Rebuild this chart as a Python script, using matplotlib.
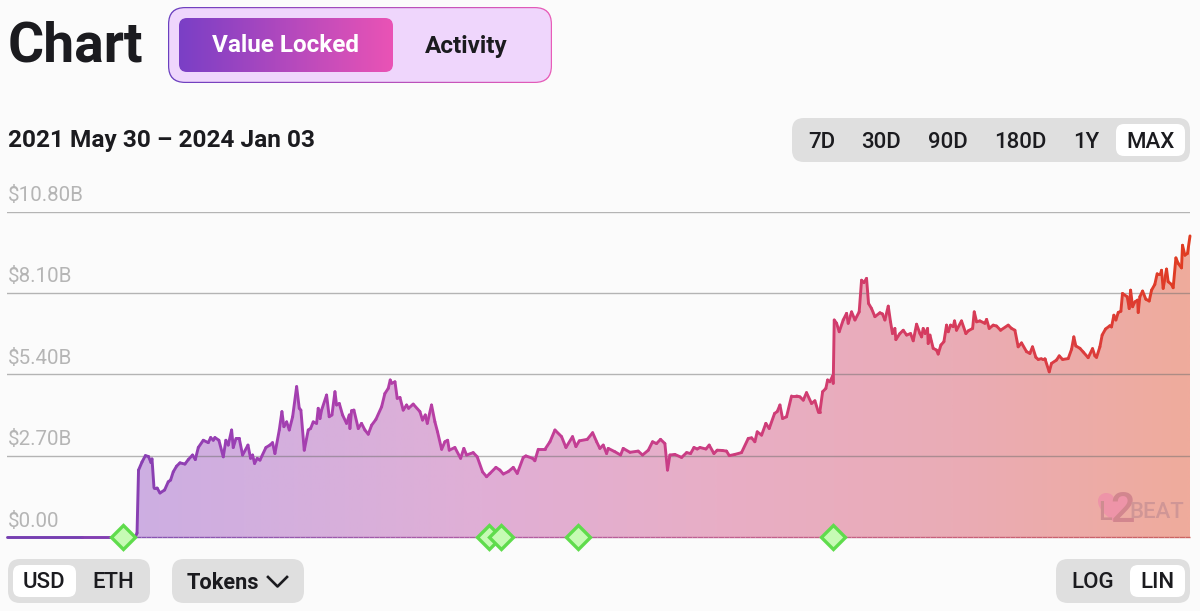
#!/usr/bin/env python3
import matplotlib
matplotlib.use('Agg')
import matplotlib.pyplot as plt
import numpy as np
from matplotlib.collections import LineCollection
from matplotlib.colors import LinearSegmentedColormap
from matplotlib.patches import FancyBboxPatch, PathPatch
from matplotlib.path import Path

# Days since 2021 May 30 and value locked in $B
DAYS = [0, 60, 101, 103, 104.2, 105.4, 108.2, 110.9, 113.4, 115.4, 116.2, 117.8, 120.2, 122.6, 126.3, 129.2, 131.1, 133.2,
        135.9, 138.6, 142.6, 145.3, 148.7, 150.9, 153.3, 157.3, 161.3, 163.2, 165.3, 166.6, 169.8, 173.3, 175.4,
        177.3, 180.0, 181.3, 183.5, 186.1, 188.8, 193.1, 195.2, 196.8, 198.4, 200.5, 202.7, 207.5, 210.7, 212.8,
        214.7, 218.2, 220.3, 221.9, 224.1, 226.2, 228.9, 232.1, 234.2, 235.5, 238.2, 241.4, 243.3, 245.4, 248.1,
        249.4, 250.8, 252.1, 256.1, 258.2, 260.4, 262.8, 264.1, 266.3, 268.9, 272.1, 274.3, 274.8, 276.1, 278.0,
        281.5, 284.1, 286.8, 289.5, 292.2, 295.6, 300.2, 302.8, 305.5, 307.1, 308.2, 310.9, 312.7, 314.9, 317.5,
        320.2, 321.8, 325.5, 330.9, 333.0, 335.2, 336.8, 340.2, 342.9, 345.0, 348.3, 350.9, 353.1, 354.4, 358.9,
        363.5, 366.1, 368.3, 373.6, 376.8, 381.1, 384.3, 387.0, 391.8, 395.0, 397.7, 401.7, 405.7, 408.9, 413.7,
        415.8, 421.2, 423.0, 425.7, 431.1, 435.1, 439.1, 444.4, 447.9, 453.2, 455.9, 458.6, 465.0, 469.3, 472.5,
        475.1, 477.8, 480.5, 481.8, 487.1, 491.7, 493.8, 499.2, 505.8, 509.3, 513.9, 517.3, 520.5, 523.7, 527.2,
        529.3, 531.2, 535.2, 540.6, 544.6, 547.8, 550.5, 553.1, 555.3, 560.1, 562.7, 566.5, 569.1, 573.4, 576.6,
        578.8, 583.3, 588.6, 594.0, 596.7, 599.3, 601.2, 604.7, 608.1, 610.8, 615.1, 617.2, 619.4, 621.5, 624.7,
        628.7, 632.7, 635.4, 638.1, 640.7, 644.7, 647.4, 650.1, 651.4, 653.6, 656.2, 657.6, 659.4, 661.6, 662.1,
        662.9, 664.8, 666.9, 670.1, 672.8, 674.1, 676.8, 679.5, 682.9, 684.8, 686.7, 688.8, 690.4, 692.8, 695.5,
        699.5, 701.6, 703.5, 706.2, 708.0, 709.6, 711.5, 712.3, 715.5, 718.2, 720.9, 724.1, 726.2, 728.9, 731.6,
        732.9, 734.2, 735.8, 737.7, 738.2, 739.6, 740.9, 742.2, 744.9, 746.2, 748.4, 750.8, 752.9, 754.3, 756.1,
        758.3, 759.3, 760.9, 764.9, 768.4, 770.3, 773.8, 775.1, 777.0, 779.6, 783.6, 785.0, 787.1, 790.3, 793.0,
        796.2, 802.3, 805.0, 807.7, 810.3, 813.0, 817.0, 819.7, 821.8, 824.5, 826.4, 829.0, 831.7, 835.2, 837.0,
        841.0, 843.2, 845.9, 850.4, 853.1, 854.9, 856.5, 859.8, 862.4, 866.4, 869.9, 871.8, 873.1, 875.8, 877.6,
        880.3, 883.8, 885.1, 887.0, 888.6, 890.5, 892.6, 893.9, 897.7, 899.3, 900.4, 902.0, 903.8, 906.0, 906.5,
        907.8, 910.0, 912.6, 915.3, 917.2, 919.8, 921.7, 924.4, 925.2, 926.5, 929.2, 930.5, 933.2, 934.5, 936.7,
        938.5, 941.2, 942.0, 943.9, 946.0, 948.0]
VALUES = [0, 0, 0, 0.02, 0.13, 2.22, 2.49, 2.70, 2.67, 2.47, 2.59, 1.63, 1.63, 1.46, 1.56, 1.83, 1.89, 2.16,
          2.35, 2.46, 2.42, 2.57, 2.72, 2.57, 2.97, 3.21, 3.13, 3.30, 3.21, 3.30, 3.21, 2.66, 3.21,
          3.05, 3.55, 2.97, 3.27, 3.27, 2.72, 3.05, 2.61, 2.72, 2.44, 2.61, 2.55, 2.97, 3.05, 3.13,
          2.77, 3.55, 4.16, 3.66, 3.82, 3.55, 3.99, 4.99, 4.27, 4.21, 2.88, 3.55, 3.60, 3.82, 3.77,
          4.27, 3.93, 4.21, 4.71, 3.99, 4.05, 4.82, 4.38, 4.43, 4.05, 3.77, 4.05, 3.60, 4.19, 4.21,
          3.60, 3.77, 3.55, 3.41, 3.71, 3.90, 4.32, 4.76, 4.93, 5.21, 5.10, 5.15, 4.60, 4.63, 4.21,
          4.38, 4.27, 4.41, 4.16, 3.88, 4.05, 3.77, 4.38, 3.82, 3.49, 2.91, 3.16, 3.21, 2.88, 2.97,
          2.61, 2.94, 2.72, 2.80, 2.66, 2.16, 2.00, 2.11, 2.31, 2.22, 2.09, 2.17, 2.31, 2.11, 2.64,
          2.69, 2.61, 2.53, 2.91, 2.91, 3.16, 3.55, 3.33, 2.97, 3.33, 3.00, 3.19, 3.24, 3.46, 3.16,
          2.94, 3.05, 2.77, 2.94, 2.83, 2.72, 2.94, 2.81, 2.85, 2.72, 2.88, 3.16, 3.10, 3.24, 3.10,
          2.22, 2.72, 2.74, 2.64, 2.80, 2.77, 2.97, 2.92, 2.97, 2.92, 3.05, 2.77, 2.88, 2.87, 2.85,
          2.70, 2.74, 2.80, 3.27, 3.29, 3.16, 3.49, 3.38, 3.77, 3.60, 4.10, 4.16, 4.38, 3.93, 3.99,
          4.68, 4.68, 4.65, 4.54, 4.79, 4.43, 4.52, 4.16, 4.16, 4.82, 4.93, 5.21, 5.15, 5.34, 5.10,
          7.20, 7.09, 6.81, 7.20, 7.42, 7.09, 7.47, 7.20, 7.47, 8.52, 8.44, 8.58, 7.75, 7.58, 7.31,
          7.44, 7.40, 7.20, 7.66, 7.14, 6.75, 6.92, 6.55, 6.75, 6.86, 6.70, 6.75, 6.51, 7.06, 6.75,
          6.64, 6.92, 6.75, 6.92, 6.42, 6.70, 6.48, 6.26, 6.20, 6.07, 6.37, 6.48, 7.03, 6.81, 7.03,
          6.98, 7.17, 6.86, 7.17, 6.75, 6.84, 6.92, 7.47, 7.14, 7.17, 7.09, 7.22, 6.92, 7.03, 7.00,
          6.86, 7.03, 6.92, 6.86, 6.31, 6.44, 6.15, 6.09, 6.31, 5.96, 5.89, 5.92, 5.92, 5.48, 5.76,
          5.87, 6.01, 5.89, 5.92, 6.23, 6.64, 6.34, 6.26, 6.14, 5.95, 6.25, 6.01, 5.96, 6.31, 6.70,
          6.90, 7.01, 6.97, 7.36, 7.20, 7.45, 7.49, 8.08, 7.97, 7.58, 8.19, 7.64, 7.80, 7.86, 7.45,
          7.97, 8.16, 7.89, 7.83, 8.19, 8.38, 8.74, 8.74, 8.85, 8.25, 8.89, 8.47, 8.38, 8.27, 9.26,
          9.08, 8.93, 9.68, 9.35, 9.41, 9.99]
Y_TICKS = [0, 2.7, 5.4, 8.1, 10.8]
Y_TICK_LABELS = ['$0.00', '$2.70B', '$5.40B', '$8.10B', '$10.80B']
MILESTONE_DAYS = [92.9, 386.2, 395.8, 457.5, 661.9]
RANGE_LABELS = ['7D', '30D', '90D', '180D', '1Y', 'MAX']

BACKGROUND = '#FBFBFB'
PILL_GRAY = '#DFDFDF'
INK = '#1B1B1F'
LINE_COLORS = ['#6F3FB0', '#9C3FB4', '#BE3FA0', '#CC3D80', '#D63C5C', '#E03C22']
BASE_COLORS = ['#7A4CB4', '#9158B0', '#B05CA4', '#C06090', '#C8607A', '#CC6460']
FILL_COLORS = ['#C7AEE6', '#D2AFDF', '#E0AFD6', '#E8AEC6', '#EAACB6', '#EFAB9C']
BUTTON_COLORS = ['#7A3FC6', '#EA53B5']

plt.rcParams['font.family'] = ['Roboto', 'DejaVu Sans']


def pill(ax, x0, y0, x1, y1, radius, color, zorder=2):
    patch = FancyBboxPatch((x0 + radius, y0 + radius), x1 - x0 - 2 * radius, y1 - y0 - 2 * radius,
                           boxstyle=f'round,pad={radius},rounding_size={radius}', fc=color, ec='none', zorder=zorder)
    ax.add_patch(patch)
    return patch


def gradient_pill(ax, x0, y0, x1, y1, radius, colors, zorder=2):
    patch = pill(ax, x0, y0, x1, y1, radius, 'none', zorder=zorder)
    cmap = LinearSegmentedColormap.from_list('pill', colors)
    image = ax.imshow(np.linspace(0, 1, 256).reshape(1, -1), cmap=cmap, extent=(x0, x1, y1, y0), aspect='auto',
                      zorder=zorder)
    image.set_clip_path(patch)


def draw_chart(fig):
    # Chart area spans pixels 7..1190 horizontally and 211.5..537 vertically
    ax = fig.add_axes([7 / 1200, 1 - 537 / 611, 1183 / 1200, (537 - 211.5) / 611], facecolor='none')
    ax.set_xlim(0, 948)
    ax.set_ylim(0, 10.8)
    for spine in ax.spines.values():
        spine.set_visible(False)
    ax.set_xticks([])
    ax.set_yticks(Y_TICKS[1:])
    ax.set_yticklabels([])
    ax.tick_params(length=0)
    ax.grid(axis='y', color='#6E6E6E', alpha=0.5, linewidth=1, zorder=4)
    ax.set_axisbelow(False)

    for tick, label in zip(Y_TICKS, Y_TICK_LABELS):
        ax.annotate(label, (0, tick), xytext=(0.8, 4.6), textcoords='offset points', color='#B5B5B5', fontsize=14.8,
                    va='bottom', ha='left', annotation_clip=False)

    # Area under the line with a horizontal gradient
    days = np.array(DAYS)
    values = np.array(VALUES)
    fill_cmap = LinearSegmentedColormap.from_list('fill', FILL_COLORS)
    line_cmap = LinearSegmentedColormap.from_list('line', LINE_COLORS)
    base_cmap = LinearSegmentedColormap.from_list('base', BASE_COLORS)
    outline = Path(np.column_stack([np.r_[days, days[-1], days[0]], np.r_[values, 0, 0]]))
    clip = PathPatch(outline, transform=ax.transData, fc='none', ec='none')
    ax.add_patch(clip)
    image = ax.imshow(np.linspace(0, 1, 512).reshape(1, -1), cmap=fill_cmap, extent=(0, 948, 0, 10.8), aspect='auto',
                      zorder=2)
    image.set_clip_path(clip)

    # The line takes its colour from the position on the x axis
    points = np.column_stack([days, values])
    segments = np.stack([points[:-1], points[1:]], axis=1)
    line = LineCollection(segments, cmap=line_cmap, linewidths=2.1, zorder=5, capstyle='round', joinstyle='round',
                          clip_on=False)
    line.set_array((days[:-1] + days[1:]) / 2 / 948)
    line.set_clim(0, 1)
    ax.add_collection(line)

    base_days = np.linspace(days[3], 948, 200)
    base_points = np.column_stack([base_days, np.zeros_like(base_days)])
    baseline = LineCollection(np.stack([base_points[:-1], base_points[1:]], axis=1), cmap=base_cmap, linewidths=1.0,
                              zorder=5, clip_on=False)
    baseline.set_array(base_days[:-1] / 948)
    baseline.set_clim(0, 1)
    ax.add_collection(baseline)

    ax.plot(MILESTONE_DAYS, [0] * len(MILESTONE_DAYS), linestyle='none', marker='D', markersize=12.5,
            markerfacecolor='#C6FBB4', markeredgecolor='#5FDC4C', markeredgewidth=2.4, clip_on=False, zorder=6)


def draw_controls(fig):
    # Overlay in pixel coordinates for the page controls around the chart
    ui = fig.add_axes([0, 0, 1, 1], facecolor='none')
    ui.set_xlim(0, 1200)
    ui.set_ylim(611, 0)
    ui.set_axis_off()

    ui.text(8, 46, 'Chart', fontsize=39.8, fontweight='bold', color=INK, va='center', ha='left')

    gradient_pill(ui, 168, 7, 552, 83, 17, ['#6A3FC0', '#E85CB8'])
    pill(ui, 169.2, 8.2, 550.8, 81.8, 16, '#EFD6FC', zorder=3)
    gradient_pill(ui, 179, 18, 393, 72, 8, BUTTON_COLORS, zorder=4)
    ui.text(286, 46, 'Value Locked', fontsize=17.5, fontweight='bold', color='white', va='center', ha='center', zorder=5)
    ui.text(466.5, 46, 'Activity', fontsize=17.5, fontweight='bold', color=INK, va='center', ha='center', zorder=5)

    ui.text(8, 141, '2021 May 30 – 2024 Jan 03', fontsize=17.6, fontweight='bold', color=INK, va='center', ha='left')

    pill(ui, 792, 118, 1190, 162, 12, PILL_GRAY)
    pill(ui, 1116, 124, 1185, 156, 8, 'white', zorder=3)
    for label, x in zip(RANGE_LABELS, [822, 881.5, 948, 1020, 1086.5, 1150.5]):
        ui.text(x, 142, label, fontsize=16, fontweight='medium', color=INK, va='center', ha='center', zorder=4)

    pill(ui, 8, 559, 150, 603, 12, PILL_GRAY)
    pill(ui, 13, 565, 76, 597, 8, 'white', zorder=3)
    ui.text(44, 583, 'USD', fontsize=16, fontweight='medium', color=INK, va='center', ha='center', zorder=4)
    ui.text(113, 583, 'ETH', fontsize=16, fontweight='medium', color=INK, va='center', ha='center', zorder=4)

    pill(ui, 172, 559, 304, 603, 12, PILL_GRAY)
    ui.text(223, 583, 'Tokens', fontsize=15.7, fontweight='bold', color=INK, va='center', ha='center', zorder=4)
    ui.plot([268, 277.5, 287], [577, 586.5, 577], color=INK, linewidth=1.9, zorder=4)

    pill(ui, 1056, 559, 1190, 603, 12, PILL_GRAY)
    pill(ui, 1130, 565, 1185, 597, 8, 'white', zorder=3)
    ui.text(1093, 583, 'LOG', fontsize=16, fontweight='medium', color=INK, va='center', ha='center', zorder=4)
    ui.text(1157, 583, 'LIN', fontsize=16, fontweight='medium', color=INK, va='center', ha='center', zorder=4)

    # Watermark: heart shape behind the L2BEAT letters
    heart = Path([(1114, 522), (1104, 514), (1098, 508), (1098, 501), (1098, 496), (1102, 493), (1106, 493),
                  (1110, 493), (1113, 495), (1114, 498), (1115, 495), (1118, 493), (1122, 493), (1126, 493),
                  (1130, 496), (1130, 501), (1130, 508), (1124, 514), (1114, 522)],
                 [Path.MOVETO] + [Path.CURVE4] * 18)
    ui.add_patch(PathPatch(heart, fc='#EE94A8', ec='none', zorder=6))
    ui.text(1105, 513, 'L', fontsize=18, color='#CE8C90', va='center', ha='center', fontweight='medium', zorder=7)
    ui.text(1122, 510, '2', fontsize=31, color='#D2868E', va='center', ha='center', fontweight='medium', zorder=7)
    ui.text(1157, 513, 'BEAT', fontsize=16, color='#D09696', va='center', ha='center', fontweight='medium', zorder=7)


def main():
    fig = plt.figure(figsize=(12, 6.11), dpi=100, facecolor=BACKGROUND)
    draw_chart(fig)
    draw_controls(fig)
    fig.savefig('out.png', dpi=100, facecolor=BACKGROUND)


if __name__ == '__main__':
    main()
